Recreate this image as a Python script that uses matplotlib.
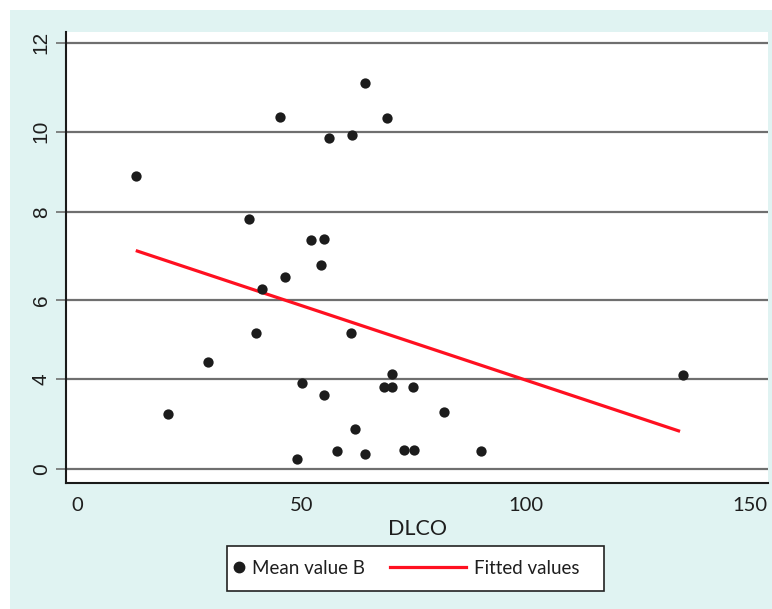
import numpy as np
import matplotlib
matplotlib.use("Agg")
import matplotlib.pyplot as plt
from matplotlib.patches import Rectangle
from matplotlib.lines import Line2D
from matplotlib.legend_handler import HandlerBase

# ---- data ----
dlco = [13.1, 20.2, 29.1, 38.4, 40.0, 41.2, 45.2, 46.4, 49.0, 50.1, 52.2,
        54.3, 55.0, 55.0, 56.2, 57.9, 61.0, 61.2, 62.0, 64.2, 64.1, 68.5,
        69.2, 70.3, 70.3, 72.9, 74.9, 75.0, 81.9, 90.0, 135.1]
mean_b = [8.88, 2.48, 4.43, 7.84, 5.18, 6.25, 10.34, 6.51, 0.47, 3.84, 7.36,
          6.79, 3.30, 7.38, 9.84, 0.83, 5.18, 9.92, 1.78, 11.09, 0.67, 3.68,
          10.31, 4.14, 3.68, 0.87, 3.68, 0.85, 2.55, 0.83, 4.11]
fit_x = [13.1, 134.4]
fit_y = [7.12, 1.69]

y_ticks = [0, 4, 6, 8, 10, 12]
y_tick_labels = ["0", "4", "6", "8", "10", "12"]
x_ticks = [0, 50, 100, 150]
x_tick_labels = ["0", "50", "100", "150"]

# ---- uneven y scale (tick spacing in the reference is not uniform) ----
_v = np.array([-10, 0, 4, 6, 8, 10, 12, 30], dtype=float)
_u = np.array([-224.5, 0, 89.8, 169.3, 257.6, 337.6, 426.6, 1227.6])

def fwd(v):
    return np.interp(v, _v, _u)

def inv(u):
    return np.interp(u, _u, _v)

W, H = 772, 609
fig = plt.figure(figsize=(W / 100, H / 100), dpi=100)
fig.patch.set_facecolor("white")
bg = "#e0f3f2"
fig.patches.append(Rectangle((10 / W, 0), 1 - 10 / W, 1 - 10 / H,
                             transform=fig.transFigure, facecolor=bg,
                             edgecolor="none", zorder=-5))

ax = fig.add_axes([66 / W, (H - 482.7) / H, (768 - 66) / W, (482.7 - 31.7) / H])
ax.set_zorder(1)
ax.set_facecolor("white")
ax.set_yscale("function", functions=(fwd, inv))
ax.set_xlim(-2.45, 154.0)
ax.set_ylim(-0.597, 12.247)

for yv in y_ticks:
    ax.axhline(yv, color="#6f6f6f", lw=1.6, zorder=1)

ax.scatter(dlco, mean_b, s=55, color="#1c1c1c", zorder=3, linewidths=0)
ax.plot(fit_x, fit_y, color="#ff1020", lw=2.3, zorder=2, solid_capstyle="butt")

for s in ["top", "right"]:
    ax.spines[s].set_visible(False)
for s in ["left", "bottom"]:
    ax.spines[s].set_color("#1a1a1a")
    ax.spines[s].set_linewidth(1.5)

ax.set_yticks(y_ticks)
ax.set_yticklabels(y_tick_labels, rotation=90, va="center",
                   family="Liberation Sans", fontsize=15, color="#1e1e1e")
ax.yaxis.set_minor_locator(matplotlib.ticker.NullLocator())
ax.tick_params(axis="y", length=7.5, width=1.2, color="#6f6f6f", pad=3.5)

ax.set_xticks(x_ticks)
ax.set_xticklabels(x_tick_labels, family="Lato", fontsize=14.5, color="#1e1e1e")
ax.tick_params(axis="x", length=0, pad=10)
ax.set_xlabel("DLCO", family="Lato", fontsize=15.5, color="#1e1e1e", labelpad=4)


class DotHandler(HandlerBase):
    def create_artists(self, legend, orig_handle, xdescent, ydescent,
                       width, height, fontsize, trans):
        dot = Line2D([width - xdescent - 3.6], [height / 2 - ydescent],
                     marker="o", linestyle="none", color="#1c1c1c",
                     markersize=7.5, transform=trans)
        return [dot]


h_dot = Line2D([], [], marker="o", linestyle="none", color="#1c1c1c",
               markersize=7.5, label="Mean value B")
h_fit = Line2D([], [], color="#ff1020", lw=2.3, label="Fitted values")

fs = 13.5
leg = fig.legend(handles=[h_dot, h_fit], loc="center left",
                 bbox_to_anchor=(168 / W, 1 - 568.3 / H), ncol=2,
                 frameon=False, prop={"family": "Lato", "size": fs},
                 handlelength=76 * 0.72 / fs, handletextpad=8 * 0.72 / fs,
                 columnspacing=25 * 0.72 / fs,
                 borderpad=0, borderaxespad=0,
                 handler_map={h_dot: DotHandler()})
for t in leg.get_texts():
    t.set_color("#1e1e1e")

fig.patches.append(Rectangle((227 / W, 1 - 590.7 / H), (604 - 227) / W,
                             (590.7 - 546) / H, transform=fig.transFigure,
                             facecolor="white", edgecolor="#222222",
                             linewidth=1.2, zorder=-1))

fig.savefig("out.png", dpi=100, facecolor=fig.get_facecolor())
